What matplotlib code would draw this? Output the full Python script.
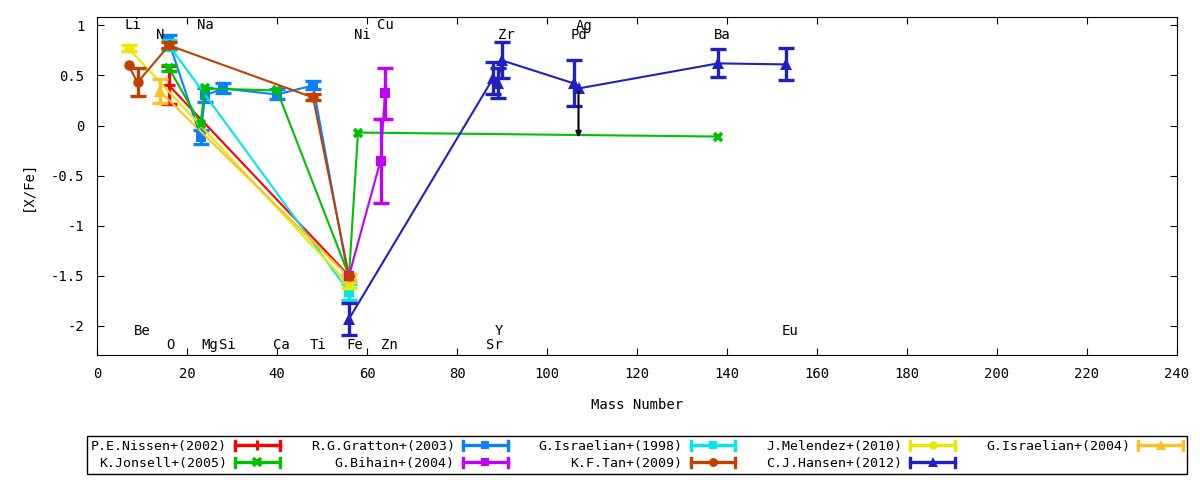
import numpy as np
import matplotlib
matplotlib.use('Agg')
import matplotlib.pyplot as plt
from matplotlib.lines import Line2D
from matplotlib.legend_handler import HandlerBase

plt.rcParams['font.family'] = ['DejaVu Sans Mono']
plt.rcParams['font.size'] = 9.5

# ---- data: (mass number, [X/Fe], error) per study ----
nissen_x = [16, 56]
nissen_y = [0.40, -1.50]
nissen_e = [0.19, 0.0]

gratton_x = [16, 23, 24, 28, 40, 48, 56]
gratton_y = [0.83, -0.11, 0.30, 0.37, 0.31, 0.40, -1.55]
gratton_e = [0.07, 0.07, 0.07, 0.05, 0.05, 0.04, 0.0]

isr98_x = [16, 56]
isr98_y = [0.80, -1.66]
isr98_e = [0.05, 0.08]

melendez_x = [7, 56]
melendez_y = [0.77, -1.59]
melendez_e = [0.03, 0.03]

isr04_x = [14, 56]
isr04_y = [0.34, -1.51]
isr04_e = [0.12, 0.03]

jonsell_x = [16, 23, 24, 40, 56, 58, 138]
jonsell_y = [0.57, 0.02, 0.37, 0.35, -1.50, -0.07, -0.11]
jonsell_e = [0.03, 0.0, 0.0, 0.0, 0.0, 0.0, 0.0]

bihain_x = [56, 63, 64]
bihain_y = [-1.50, -0.35, 0.32]
bihain_e = [0.0, 0.42, 0.25]

tan_x = [7, 9, 16, 48, 56]
tan_y = [0.60, 0.43, 0.80, 0.28, -1.50]
tan_e = [0.0, 0.14, 0.03, 0.03, 0.0]

hansen_x = [56, 88, 89, 90, 106, 107, 138, 153]
hansen_y = [-1.93, 0.47, 0.42, 0.65, 0.42, 0.37, 0.62, 0.61]
hansen_e = [0.16, 0.16, 0.15, 0.18, 0.23, 0.0, 0.14, 0.16]

# upper limit arrow (Ag)
limit_x = 107
limit_from = 0.34
limit_to = -0.12

# element labels
elem_names = ['Li', 'Be', 'N', 'O', 'Na', 'Mg', 'Si', 'Ca', 'Ti', 'Fe', 'Ni', 'Cu', 'Zn',
              'Sr', 'Y', 'Zr', 'Pd', 'Ag', 'Ba', 'Eu']
elem_x = [8, 10, 14, 16.3, 24, 25, 29, 41, 49, 57.2, 59, 64, 65,
          88.4, 89.3, 91, 107, 108.2, 139, 154]
elem_y = [1.0, -2.05, 0.9, -2.19, 1.0, -2.19, -2.19, -2.19, -2.19, -2.19, 0.9, 1.0, -2.19,
          -2.19, -2.05, 0.9, 0.9, 0.99, 0.9, -2.05]

# label, x, y, err, colour, marker, size, edge width
series = [
    ('P.E.Nissen+(2002)', nissen_x, nissen_y, nissen_e, '#ff0000', '+', 8, 2.2),
    ('K.Jonsell+(2005)', jonsell_x, jonsell_y, jonsell_e, '#00c000', 'x', 6, 2.6),
    ('R.G.Gratton+(2003)', gratton_x, gratton_y, gratton_e, '#0a80ff', 's', 7, 0),
    ('G.Bihain+(2004)', bihain_x, bihain_y, bihain_e, '#c000ff', 's', 7, 0),
    ('G.Israelian+(1998)', isr98_x, isr98_y, isr98_e, '#00e8e8', 's', 7, 0),
    ('K.F.Tan+(2009)', tan_x, tan_y, tan_e, '#c04000', 'o', 7.5, 0),
    ('J.Melendez+(2010)', melendez_x, melendez_y, melendez_e, '#e8e800', 'o', 7, 0),
    ('C.J.Hansen+(2012)', hansen_x, hansen_y, hansen_e, '#2020c0', '^', 8.5, 0),
    ('G.Israelian+(2004)', isr04_x, isr04_y, isr04_e, '#ffc020', '^', 8.5, 0),
]

draw_order = [0, 2, 4, 6, 8, 1, 3, 5, 7]


class KeyHandler(HandlerBase):
    # gnuplot-like key sample: bar with caps and a marker in the middle
    def create_artists(self, legend, orig_handle, xdescent, ydescent,
                       width, height, fontsize, trans):
        x0, x1 = -xdescent, -xdescent + width
        y = (height - ydescent) / 2
        cap = height * 0.5
        c = orig_handle.get_color()
        arts = [Line2D([x0, x1], [y, y], color=c, lw=2.4),
                Line2D([x0, x0], [y - cap, y + cap], color=c, lw=2.4),
                Line2D([x1, x1], [y - cap, y + cap], color=c, lw=2.4),
                Line2D([(x0 + x1) / 2], [y], color=c, marker=orig_handle.get_marker(),
                       ms=orig_handle.get_markersize() * 0.85,
                       mew=orig_handle.get_markeredgewidth(), linestyle='none')]
        for a in arts:
            a.set_transform(trans)
        return arts


fig = plt.figure(figsize=(12, 4.8), dpi=100)
ax = fig.add_axes([97 / 1200, 1 - 355 / 480, 1080 / 1200, 338 / 480])

handles = []
for k, i in enumerate(draw_order):
    label, x, y, e, c, m, ms, mew = series[i]
    x = np.array(x)
    y = np.array(y)
    e = np.array(e)
    has = e > 0
    ax.errorbar(x[has], y[has], yerr=e[has], fmt='none', ecolor=c,
                elinewidth=2.4, capsize=6, capthick=2.4, zorder=2 + k * 0.1)
    ax.plot(x, y, color=c, lw=1.5, marker=m, ms=ms, mew=mew, zorder=2.05 + k * 0.1)
for label, x, y, e, c, m, ms, mew in series:
    handles.append(Line2D([], [], color=c, marker=m, ms=ms, mew=mew, label=label))

ax.annotate('', xy=(limit_x, limit_to), xytext=(limit_x, limit_from),
            arrowprops=dict(arrowstyle='-|>', color='black', lw=1.5, mutation_scale=8,
                            shrinkA=0, shrinkB=0))

for name, x, y in zip(elem_names, elem_x, elem_y):
    ax.text(x, y, name, ha='center', va='center', fontsize=10)

ax.set_xlim(0, 240)
ax.set_ylim(-2.29, 1.083)
ax.set_xticks(np.arange(0, 241, 20))
ax.set_yticks([-2, -1.5, -1, -0.5, 0, 0.5, 1])
ax.set_yticklabels(['-2', '-1.5', '-1', '-0.5', '0', '0.5', '1'])
ax.tick_params(direction='in', top=True, right=True, length=5, labelsize=10, pad=9)
ax.set_xlabel('Mass Number', fontsize=10, labelpad=12)
ax.set_ylabel('[X/Fe]', fontsize=10, labelpad=12)

leg = fig.legend(handles=handles, labels=[h.get_label() for h in handles],
                 loc='center', bbox_to_anchor=(637 / 1200, 1 - 455 / 480),
                 ncol=5, markerfirst=False, fancybox=False,
                 edgecolor='black', framealpha=1, handlelength=3.4, handletextpad=0.6,
                 labelspacing=0.3, borderpad=0.3, columnspacing=2.35,
                 handler_map={Line2D: KeyHandler()})
leg.get_frame().set_linewidth(1)

fig.savefig('out.png', dpi=100)
